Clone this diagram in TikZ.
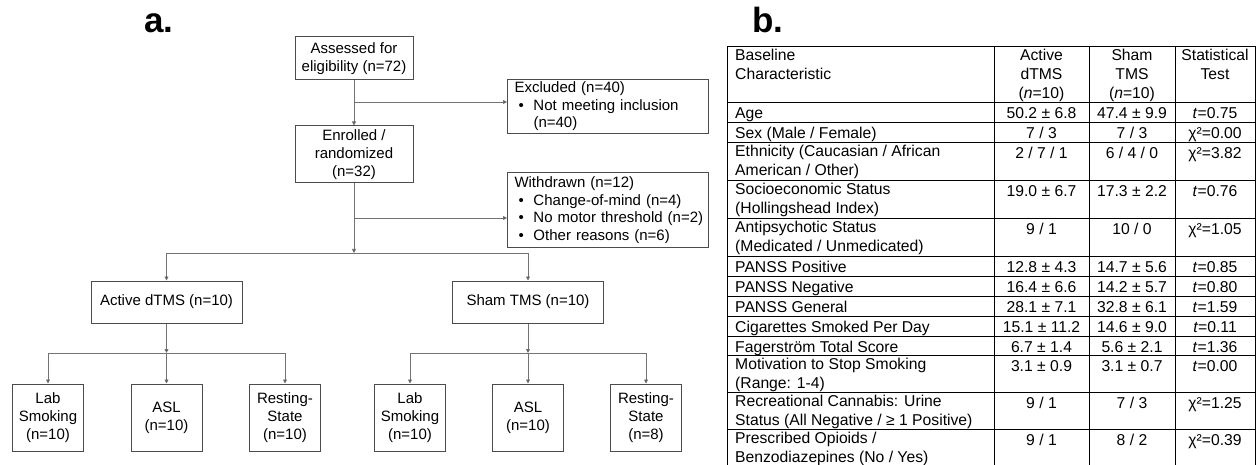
\documentclass[tikz,border=0pt]{standalone}
\usepackage{fontspec}
\setmainfont{Liberation Sans}
\usetikzlibrary{arrows.meta}
\newcommand\blt{\makebox[22pt][l]{\hspace{7pt}\textbullet}}

\begin{document}
\begin{tikzpicture}[x=1pt,y=-1pt,
    box/.style={draw=black!70, line width=1pt, align=center, inner sep=0pt,
        font=\fontsize{15}{18}\selectfont},
    sidebox/.style={box, align=left, anchor=north west, text width=193pt,
        inner xsep=4pt, font=\fontsize{15}{17.6}\selectfont},
    leaf/.style={box, minimum width=71pt, minimum height=67pt},
    arm/.style={box, minimum width=151pt, minimum height=42pt},
    link/.style={draw=black!55, line width=0.8pt},
    arr/.style={link, -{Triangle[length=4pt,width=4pt,fill=black!80]}},
    rule/.style={draw=black, line width=0.9pt},
    cell/.style={inner sep=0pt, anchor=north, align=center,
        font=\fontsize{15.7}{19}\selectfont, execute at begin node=\strut},
    lcell/.style={cell, anchor=north west, align=left},
    panel/.style={font=\bfseries\fontsize{35}{40}\selectfont, inner sep=0pt,
        anchor=base west}]
    \useasboundingbox (0,0) rectangle (1256,465);

    \node[panel] (labA) at (144,33) {a.};
    \node[panel] (labB) at (752,33) {b.};

    \node[box, minimum width=118pt, minimum height=43pt] (assess) at (354,58.5)
        {Assessed for\\eligibility (n=72)};
    \node[box, minimum width=118pt, minimum height=57pt] (enrol) at (354,154.5)
        {Enrolled /\\randomized\\(n=32)};
    \node[sidebox, minimum height=54pt] (excl) at (507,79)
        {\hspace*{3pt}Excluded (n=40)\\\blt Not meeting inclusion\\\hspace*{22pt}(n=40)};
    \node[sidebox, minimum height=75pt] (wdrawn) at (507,172)
        {\hspace*{3pt}Withdrawn (n=12)\\\blt Change-of-mind (n=4)\\\blt No motor threshold (n=2)\\\blt Other reasons (n=6)};
    \node[arm] (active) at (166.5,302) {Active dTMS (n=10)};
    \node[arm] (sham) at (528,302) {Sham TMS (n=10)};
    \node[leaf] (aLab) at (48,417.5) {Lab\\Smoking\\(n=10)};
    \node[leaf] (aASL) at (166.5,417.5) {ASL\\(n=10)};
    \node[leaf] (aRest) at (285,417.5) {Resting-\\State\\(n=10)};
    \node[leaf] (sLab) at (410,417.5) {Lab\\Smoking\\(n=10)};
    \node[leaf] (sASL) at (528,417.5) {ASL\\(n=10)};
    \node[leaf] (sRest) at (646,417.5) {Resting-\\State\\(n=8)};

    \coordinate (j1) at (354,102);
    \coordinate (j2) at (354,218);
    \coordinate (split) at (354,253);
    \coordinate (aSplit) at (166.5,353);
    \coordinate (sSplit) at (528,353);
    \draw[arr] (assess.south) -- (enrol.north);
    \draw[arr] (j1) -- (j1 -| excl.west);
    \draw[arr] (enrol.south) -- (split);
    \draw[arr] (j2) -- (j2 -| wdrawn.west);
    \draw[link] (split -| active.north) -- (split -| sham.north);
    \draw[arr] (split -| active.north) -- (active.north);
    \draw[arr] (split -| sham.north) -- (sham.north);
    \draw[arr] (active.south) -- (aSplit);
    \draw[arr] (sham.south) -- (sSplit);
    \draw[link] (aSplit -| aLab.north) -- (aSplit -| aRest.north);
    \draw[link] (sSplit -| sLab.north) -- (sSplit -| sRest.north);
    \foreach \n in {aLab,aASL,aRest}
        \draw[arr] (aSplit -| \n.north) -- (\n.north);
    \foreach \n in {sLab,sASL,sRest}
        \draw[arr] (sSplit -| \n.north) -- (\n.north);

    \foreach \y in {46,102,122,142,180,218,256,276,296,316,336,355,392,429}
        \draw[rule] (727,\y) -- (1255,\y);
    \foreach \x in {727,994,1089,1175,1255}
        \draw[rule] (\x,46) -- (\x,466);

    \foreach \top/\rowtxt/\va/\vb/\st [count=\r] in {
        46/{Baseline\\Characteristic}/{Active\\dTMS\\(\textit{n}=10)}/{Sham\\TMS\\(\textit{n}=10)}/{Statistical\\Test},
        102/{Age}/{50.2 ± 6.8}/{47.4 ± 9.9}/{\textit{t}=0.75},
        122/{Sex (Male / Female)}/{7 / 3}/{7 / 3}/{χ²=0.00},
        142/{Ethnicity (Caucasian / African\\American / Other)}/{2 / 7 / 1}/{6 / 4 / 0}/{χ²=3.82},
        180/{Socioeconomic Status\\(Hollingshead Index)}/{19.0 ± 6.7}/{17.3 ± 2.2}/{\textit{t}=0.76},
        218/{Antipsychotic Status\\(Medicated / Unmedicated)}/{9 / 1}/{10 / 0}/{χ²=1.05},
        256/{PANSS Positive}/{12.8 ± 4.3}/{14.7 ± 5.6}/{\textit{t}=0.85},
        276/{PANSS Negative}/{16.4 ± 6.6}/{14.2 ± 5.7}/{\textit{t}=0.80},
        296/{PANSS General}/{28.1 ± 7.1}/{32.8 ± 6.1}/{\textit{t}=1.59},
        316/{Cigarettes Smoked Per Day}/{15.1 ± 11.2}/{14.6 ± 9.0}/{\textit{t}=0.11},
        336/{Fagerström Total Score}/{6.7 ± 1.4}/{5.6 ± 2.1}/{\textit{t}=1.36},
        355/{Motivation to Stop Smoking\\(Range: 1-4)}/{3.1 ± 0.9}/{3.1 ± 0.7}/{\textit{t}=0.00},
        392/{Recreational Cannabis: Urine\\Status (All Negative / ≥ 1 Positive)}/{9 / 1}/{7 / 3}/{χ²=1.25},
        429/{Prescribed Opioids /\\Benzodiazepines (No / Yes)}/{9 / 1}/{8 / 2}/{χ²=0.39}}
    {
        \node[lcell] (char\r) at (735,\top+2.7) {\rowtxt};
        \node[cell] (act\r) at (1041.5,\top+2.7) {\va};
        \node[cell] (shm\r) at (1132,\top+2.7) {\vb};
        \node[cell] (stat\r) at (1215,\top+2.7) {\st};
    }
\end{tikzpicture}
\end{document}
